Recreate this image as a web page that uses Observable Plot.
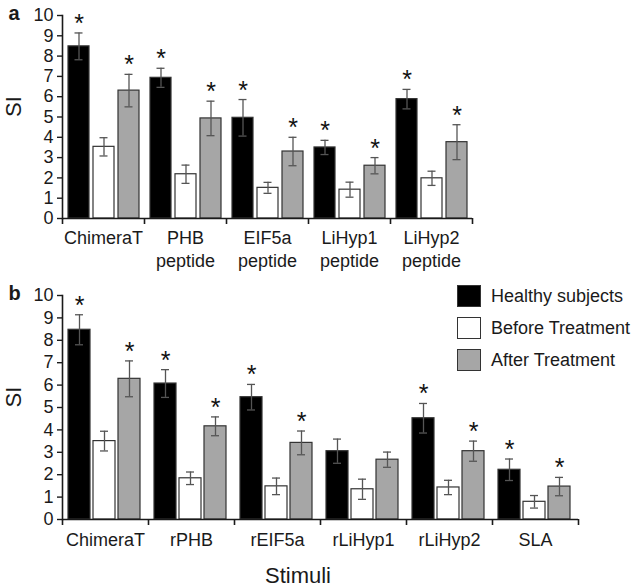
<!DOCTYPE html>
<html><head><meta charset="utf-8">
<script src="https://cdn.jsdelivr.net/npm/d3@7"></script>
<script src="https://cdn.jsdelivr.net/npm/@observablehq/plot@0.6"></script>
<style>
body{margin:0;background:#fff;font-family:"Liberation Sans",Arial,sans-serif;}
#wrap{position:relative;width:632px;height:588px;overflow:hidden;}
.panel{position:absolute;left:0;}
#legend{position:absolute;left:457px;top:280px;font-size:18px;color:#1a1a1a;}
.row{display:flex;align-items:center;height:32px;}
.sw{width:22px;height:20px;border:1.5px solid #333;margin-right:10px;}
#xlabel{position:absolute;left:0;width:596px;text-align:center;top:565px;font-size:22px;line-height:22px;color:#1a1a1a;}
</style></head><body>
<div id="wrap">
  <div id="pa" class="panel" style="top:0"></div>
  <div id="pb" class="panel" style="top:280px"></div>
  <div id="legend"></div>
  <div id="xlabel">Stimuli</div>
</div>
<script>
// ---- data ----
const series = ["Healthy subjects", "Before Treatment", "After Treatment"];
const fills = ["#000000", "#ffffff", "#a6a6a6"];
const yTicks = [0, 1, 2, 3, 4, 5, 6, 7, 8, 9, 10];

// Panel a
const groupsA = ["ChimeraT", "PHB\npeptide", "EIF5a\npeptide", "LiHyp1\npeptide", "LiHyp2\npeptide"];
const healthyA = [8.48, 6.93, 4.96, 3.5, 5.88];
const healthyErrA = [0.66, 0.47, 0.9, 0.35, 0.48];
const beforeA = [3.53, 2.18, 1.51, 1.42, 1.98];
const beforeErrA = [0.45, 0.45, 0.27, 0.37, 0.35];
const afterA = [6.3, 4.93, 3.3, 2.6, 3.76];
const afterErrA = [0.8, 0.85, 0.7, 0.4, 0.86];
const starHealthyA = [true, true, true, true, true];
const starAfterA = [true, true, true, true, true];

// Panel b
const groupsB = ["ChimeraT", "rPHB", "rEIF5a", "rLiHyp1", "rLiHyp2", "SLA"];
const healthyB = [8.47, 6.07, 5.46, 3.05, 4.52, 2.22];
const healthyErrB = [0.67, 0.62, 0.57, 0.54, 0.66, 0.48];
const beforeB = [3.5, 1.84, 1.48, 1.35, 1.43, 0.79];
const beforeErrB = [0.44, 0.28, 0.37, 0.45, 0.32, 0.28];
const afterB = [6.28, 4.16, 3.42, 2.67, 3.05, 1.47];
const afterErrB = [0.8, 0.42, 0.53, 0.34, 0.45, 0.41];
const starHealthyB = [true, true, true, false, true, true];
const starAfterB = [true, true, true, false, true, true];

function buildRows(groups, vals, errs, stars) {
  const rows = [];
  groups.forEach((g, j) => {
    series.forEach((s, i) => {
      rows.push({group: g, series: s, value: vals[i][j], err: errs[i][j], star: stars[i] ? stars[i][j] : false});
    });
  });
  return rows;
}

const rowsA = buildRows(groupsA, [healthyA, beforeA, afterA], [healthyErrA, beforeErrA, afterErrA], [starHealthyA, null, starAfterA]);
const rowsB = buildRows(groupsB, [healthyB, beforeB, afterB], [healthyErrB, beforeErrB, afterErrB], [starHealthyB, null, starAfterB]);

function panel({groups, rows, letter, height, marginBottom, marginRight, pad, barW, pitch, tickPadding}) {
  const width = 632, marginLeft = 62, marginTop = 15;
  const bw = (width - marginLeft - marginRight) / groups.length;
  const pxPerUnit = (height - marginTop - marginBottom) / 10;
  const tl = 6 / pxPerUnit;
  const marks = [];
  series.forEach((s, i) => {
    const data = rows.filter(d => d.series === s);
    const left = pad + i * pitch, cx = left + barW / 2;
    marks.push(Plot.barY(data, {x: "group", y: "value", fill: fills[i], stroke: "#333", strokeWidth: 1.2,
      insetLeft: left, insetRight: bw - left - barW}));
    marks.push(Plot.ruleX(data, {x: "group", y1: d => d.value - d.err, y2: d => d.value + d.err,
      dx: cx - bw / 2, stroke: "#555", strokeWidth: 1.3}));
    marks.push(Plot.tickY(data, {x: "group", y: d => d.value - d.err, insetLeft: cx - 4, insetRight: bw - cx - 4, stroke: "#555", strokeWidth: 1.3}));
    marks.push(Plot.tickY(data, {x: "group", y: d => d.value + d.err, insetLeft: cx - 4, insetRight: bw - cx - 4, stroke: "#555", strokeWidth: 1.3}));
    marks.push(Plot.text(data.filter(d => d.star), {x: "group", y: d => d.value + d.err, text: () => "*",
      dx: cx - bw / 2, dy: -1, lineAnchor: "bottom", fontSize: 25, fill: "#111"}));
  });
  marks.push(Plot.ruleY([0], {stroke: "#1a1a1a", strokeWidth: 1.6}));
  marks.push(Plot.frame({anchor: "left", stroke: "#1a1a1a", strokeWidth: 1.6}));
  marks.push(Plot.ruleX(groups, {x: d => d, y1: 0, y2: -tl, dx: -bw / 2, stroke: "#1a1a1a", strokeWidth: 1.6}));
  marks.push(Plot.ruleX([groups[groups.length - 1]], {x: d => d, y1: 0, y2: -tl, dx: bw / 2, stroke: "#1a1a1a", strokeWidth: 1.6}));
  marks.push(Plot.axisY({ticks: yTicks, tickSize: 5, tickPadding: 4, label: null, fontSize: 18, strokeWidth: 1.4}));
  marks.push(Plot.axisX({tickSize: 0, tickPadding, label: null, fontSize: 18, lineHeight: 1.25}));
  marks.push(Plot.text(["SI"], {frameAnchor: "left", dx: -57, rotate: -90, text: d => d, fontSize: 22, lineAnchor: "top"}));
  marks.push(Plot.text([letter], {frameAnchor: "top-left", dx: -54, dy: -10, text: d => d, fontSize: 20,
    fontWeight: "bold", lineAnchor: "top"}));
  return Plot.plot({
    width, height, marginLeft, marginRight, marginTop, marginBottom,
    x: {type: "band", domain: groups, padding: 0},
    y: {domain: [0, 10]},
    style: {fontFamily: "'Liberation Sans', Arial, sans-serif", fontSize: "18px", color: "#1a1a1a", background: "transparent", overflow: "visible"},
    marks
  });
}

document.getElementById("pa").append(panel({groups: groupsA, rows: rowsA, letter: "a", height: 280, marginBottom: 62, marginRight: 160, pad: 6, barW: 21, pitch: 25, tickPadding: 10}));
document.getElementById("pb").append(panel({groups: groupsB, rows: rowsB, letter: "b", height: 308, marginBottom: 69, marginRight: 54, pad: 6, barW: 22, pitch: 25, tickPadding: 11}));

const legend = document.getElementById("legend");
series.forEach((s, i) => {
  const row = document.createElement("div");
  row.className = "row";
  const sw = document.createElement("div");
  sw.className = "sw";
  sw.style.background = fills[i];
  const t = document.createElement("span");
  t.textContent = s;
  row.append(sw, t);
  legend.append(row);
});
</script></body></html>
